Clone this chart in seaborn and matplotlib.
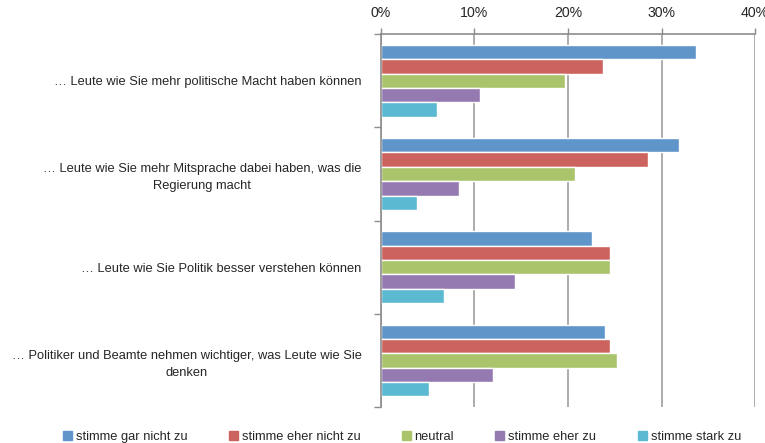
import matplotlib
matplotlib.use('Agg')
import matplotlib.pyplot as plt
import pandas as pd
import seaborn as sns
import numpy as np

# data
questions = ['… Leute wie Sie mehr politische Macht haben können',
             '… Leute wie Sie mehr Mitsprache dabei haben, was die\nRegierung macht',
             '… Leute wie Sie Politik besser verstehen können',
             '… Politiker und Beamte nehmen wichtiger, was Leute wie Sie\ndenken']
answers = ['stimme gar nicht zu', 'stimme eher nicht zu', 'neutral', 'stimme eher zu', 'stimme stark zu']
gar_nicht = [33.7, 31.9, 22.6, 24.0]
eher_nicht = [23.7, 28.5, 24.5, 24.5]
neutral = [19.7, 20.8, 24.5, 25.2]
eher_zu = [10.6, 8.3, 14.3, 12.0]
stark_zu = [6.0, 3.85, 6.7, 5.1]
colors = ['#5F95C9', '#CD635E', '#AAC46C', '#947AB0', '#5BB9D1']

rows = []
for a, vals in zip(answers, [gar_nicht, eher_nicht, neutral, eher_zu, stark_zu]):
    for q, v in zip(questions, vals):
        rows.append({'frage': q, 'antwort': a, 'wert': v})
df = pd.DataFrame(rows)

sns.set_style('white')
plt.rcParams['font.family'] = ['Liberation Sans', 'DejaVu Sans']

fig = plt.figure(figsize=(7.65, 4.43), dpi=100)
ax = fig.add_axes([0.498, 0.081, 0.489, 0.842])

sns.barplot(data=df, y='frage', x='wert', hue='antwort', order=questions, hue_order=answers,
            palette=colors, orient='h', width=0.77, saturation=1, ax=ax, legend=False)

ax.set_xlim(0, 40)
ax.set_xticks([0, 10, 20, 30, 40])
ax.set_xticklabels(['0%', '10%', '20%', '30%', '40%'], fontsize=10.2)
ax.xaxis.tick_top()
ax.tick_params(axis='x', direction='out', length=4, color='#8C8C8C', width=1, pad=6)
ax.grid(axis='x', color='#A6A6A6', linewidth=1.3)
ax.set_axisbelow(True)
ax.set_xlabel('')
ax.set_ylabel('')

# category labels in the middle, ticks at the group borders
ax.tick_params(axis='y', which='major', length=0, pad=14, labelsize=9.3)
for lbl in ax.get_yticklabels():
    lbl.set_multialignment('center')
    lbl.set_linespacing(1.55)
ax.set_yticks(np.arange(-0.5, len(questions)), minor=True)
ax.tick_params(axis='y', which='minor', left=True, length=5, color='#8C8C8C', width=1)
ax.set_ylim(len(questions) - 0.5, -0.5)

for s in ['right', 'bottom']:
    ax.spines[s].set_visible(False)
for s in ['left', 'top']:
    ax.spines[s].set_color('#8C8C8C')
    ax.spines[s].set_linewidth(1.2)

handles = [plt.Rectangle((0, 0), 1, 1, color=c) for c in colors]
fig.legend(handles, answers, loc='lower left', bbox_to_anchor=(0.072, -0.017), ncol=5,
           frameon=False, fontsize=9.3, handlelength=0.7, handleheight=0.7,
           handletextpad=0.3, columnspacing=3.2, borderaxespad=0.2)

fig.savefig('out.png', dpi=100)
